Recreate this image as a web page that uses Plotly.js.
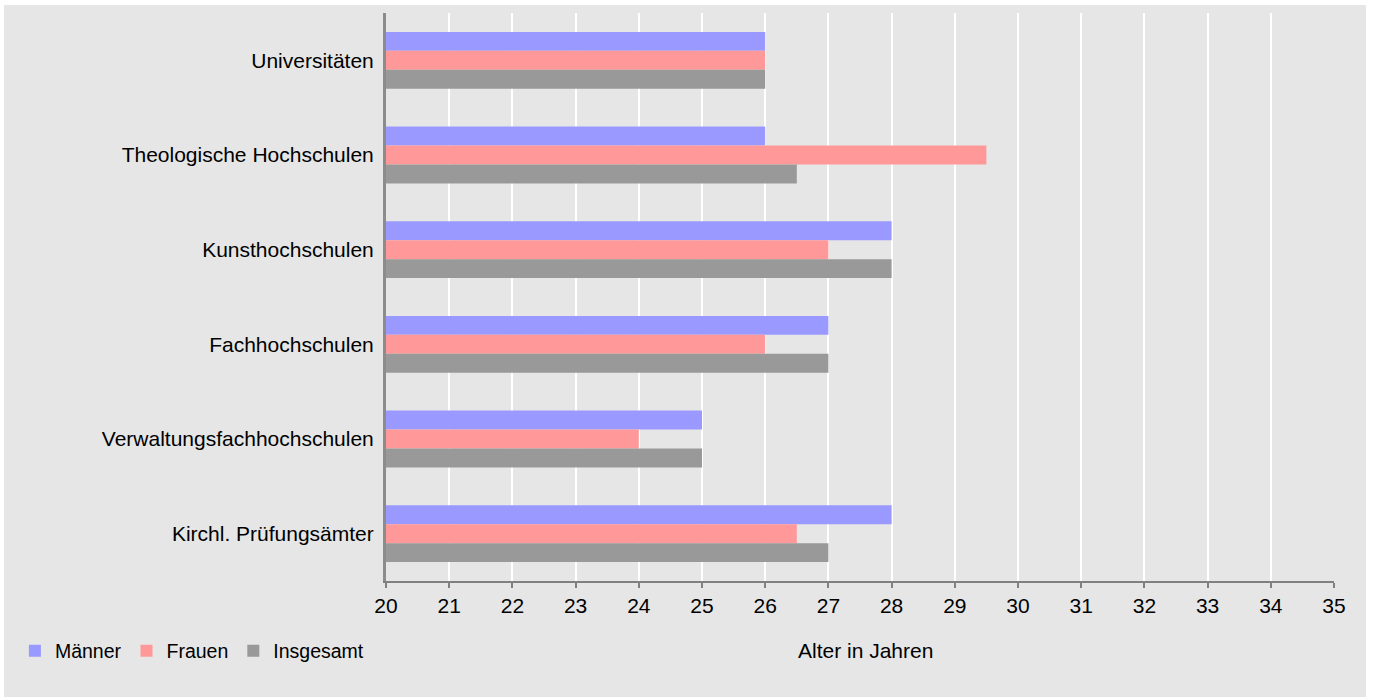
<!DOCTYPE html>
<html>
<head>
<meta charset="utf-8">
<script src="https://cdn.plot.ly/plotly-3.0.1.min.js"></script>
<style>
  html, body { margin: 0; padding: 0; background: #ffffff; width: 1373px; height: 697px; overflow: hidden; }
  #chart { position: absolute; left: 4px; top: 5px; width: 1362px; height: 692px; }
</style>
</head>
<body>
<div id="chart"></div>
<script>
const categories = ["Universitäten", "Theologische Hochschulen", "Kunsthochschulen", "Fachhochschulen", "Verwaltungsfachhochschulen", "Kirchl. Prüfungsämter"];
const maenner = [26, 26, 28, 27, 25, 28];
const frauen = [26, 29.5, 27, 26, 24, 26.5];
const insgesamt = [26, 26.5, 28, 27, 25, 27];
const xTicks = [20, 21, 22, 23, 24, 25, 26, 27, 28, 29, 30, 31, 32, 33, 34, 35];
const xTitle = "Alter in Jahren";

const font = "Liberation Sans, Arial, sans-serif";

const traces = [
  { type: "bar", orientation: "h", name: "Männer", y: categories, x: maenner, marker: { color: "#9999ff" } },
  { type: "bar", orientation: "h", name: "Frauen", y: categories, x: frauen, marker: { color: "#ff9999" } },
  { type: "bar", orientation: "h", name: "Insgesamt", y: categories, x: insgesamt, marker: { color: "#999999" } }
];

const layout = {
  barmode: "group",
  bargap: 0.4,
  bargroupgap: 0,
  paper_bgcolor: "#e6e6e6",
  plot_bgcolor: "#e6e6e6",
  margin: { l: 382, r: 32, t: 8, b: 116 },
  font: { family: font, size: 21, color: "#000000" },
  xaxis: {
    range: [20, 35],
    tickvals: xTicks,
    ticktext: xTicks.map(String),
    showgrid: true,
    gridcolor: "#ffffff",
    gridwidth: 2,
    zeroline: false,
    showline: true,
    linecolor: "#808080",
    linewidth: 2,
    ticks: "outside",
    ticklen: 5,
    tickwidth: 2,
    tickcolor: "#808080",
    tickfont: { family: font, size: 21, color: "#000000" },
    fixedrange: true
  },
  yaxis: {
    type: "category",
    autorange: "reversed",
    showgrid: false,
    zeroline: false,
    showline: true,
    linecolor: "#8c8c8c",
    linewidth: 3,
    ticks: "",
    ticklabelstandoff: 5,
    tickfont: { family: font, size: 21, color: "#000000" },
    fixedrange: true
  },
  annotations: [{
    text: xTitle,
    xref: "paper", yref: "paper",
    x: 0.5063, y: 0,
    xanchor: "center", yanchor: "middle",
    yshift: -69,
    showarrow: false,
    font: { family: font, size: 21, color: "#000000" }
  }],
  showlegend: true,
  legend: {
    orientation: "h",
    xref: "container",
    yref: "container",
    x: 0.008,
    xanchor: "left",
    y: 0.0665,
    yanchor: "middle",
    bgcolor: "rgba(0,0,0,0)",
    font: { family: font, size: 19.5, color: "#000000" },
    traceorder: "normal"
  }
};

Plotly.newPlot("chart", traces, layout, { displayModeBar: false, staticPlot: true });
</script>
</body>
</html>
